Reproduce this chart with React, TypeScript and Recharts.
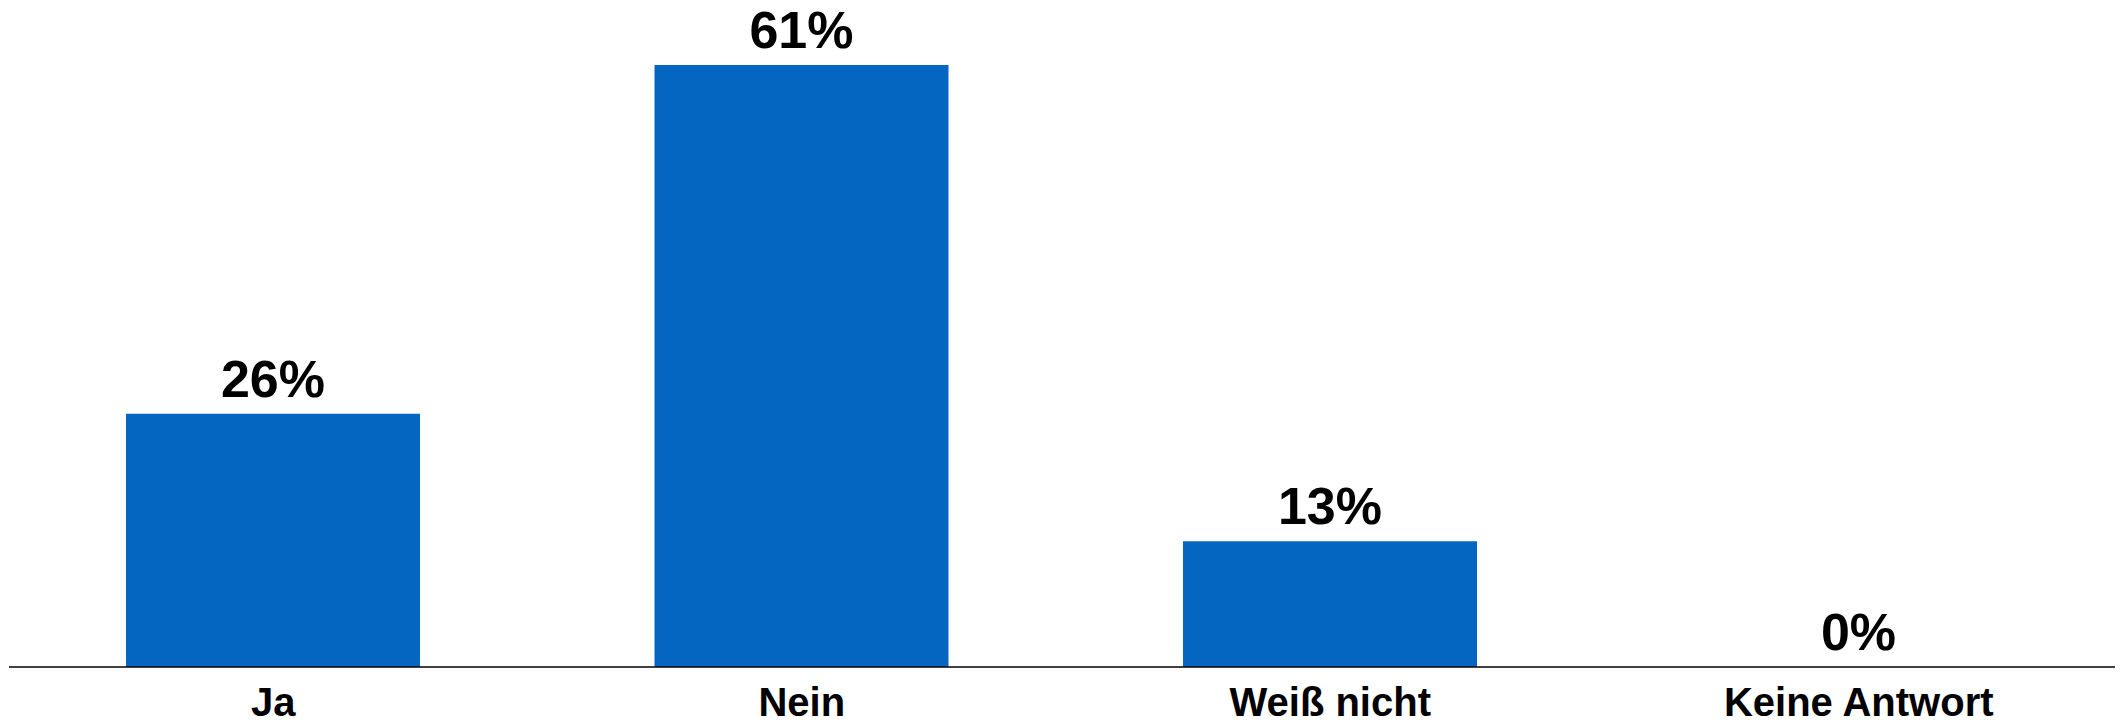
import React from "react";
import { BarChart, Bar, XAxis, YAxis, LabelList } from "recharts";

const categories = ["Ja", "Nein", "Weiß nicht", "Keine Antwort"];
const values = [25.8, 61.3, 12.8, 0.01];
const valueLabels = ["26%", "61%", "13%", "0%"];

const data = categories.map((c, i) => ({ name: c, value: values[i], label: valueLabels[i] }));

const FONT = "'Liberation Sans', Arial, sans-serif";

export default function App() {
  return (
    <div style={{ width: 2115, height: 715, background: "#fff" }}>
      <BarChart
        width={2115}
        height={715}
        data={data}
        margin={{ top: 57, right: 0, bottom: 0, left: 1 }}
        barSize={294}
        style={{ overflow: "visible" }}
      >
        <XAxis
          dataKey="name"
          height={56}
          tickLine={false}
          tickMargin={15}
          axisLine={{ stroke: "#000", strokeWidth: 1.5 }}
          tick={{ fill: "#000", fontSize: 40, fontWeight: 700, fontFamily: FONT }}
          interval={0}
        />
        <YAxis hide domain={[0, 61.3]} />
        <Bar dataKey="value" fill="#0566C2" isAnimationActive={false}>
          <LabelList
            dataKey="label"
            position="top"
            offset={17}
            style={{ fill: "#000", fontSize: 52, fontWeight: 700, fontFamily: FONT }}
          />
        </Bar>
      </BarChart>
    </div>
  );
}
